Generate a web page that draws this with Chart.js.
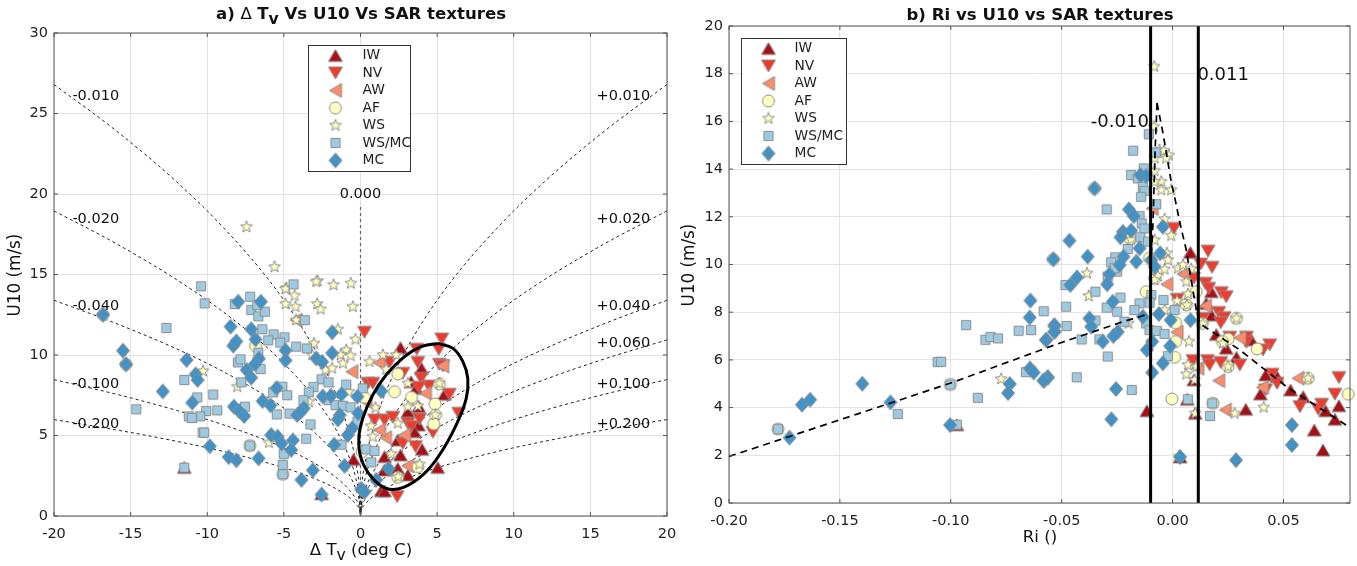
<!DOCTYPE html>
<html>
<head>
<meta charset="utf-8">
<title>U10 vs SAR textures</title>
<script src="https://cdn.jsdelivr.net/npm/chart.js@4"></script>
<style>
  html, body { margin: 0; padding: 0; background: #fff; overflow: hidden; }
  canvas { position: absolute; top: 0; }
  #plotA { left: 0; }
  #plotB { left: 678px; }
</style>
</head>
<body>
<canvas id="plotA" width="678" height="566"></canvas>
<canvas id="plotB" width="679" height="566"></canvas>
<script>
// legend order is also the stacking order, bottom to top
const textures = ['IW', 'NV', 'AW', 'AF', 'WS', 'WS/MC', 'MC'];

// panel a: [delta Tv, U10]
const tvIW = [[2.61,10.46],[3.98,9.17],[3.3,8.34],[3.63,7.93],[5.48,7.56],[3.09,6.48],[3.8,6.79],[3.78,5.65],[3.52,5.24],[2.43,4.72],[4.02,4.14],[2.61,3.79],[1.57,3.69],[-0.46,3.52],[2.43,2.96],[3.09,2.55],[5.04,3.02],[1.35,1.57],[1.57,1.55],[1.57,2.86],[-11.5,3.02],[-2.54,1.38]];
const tvNV = [[0.26,11.41],[5.3,10.99],[5.11,10.35],[3.67,10.35],[1.89,9.54],[3.74,9.54],[5.15,9.42],[5.37,9.32],[3.96,8.55],[4.46,8.07],[3.8,7.99],[5.8,7.56],[6.41,6.38],[1.57,5.96],[0.91,5.96],[2.11,6.13],[3.09,5.76],[3.85,6.02],[3.3,5.55],[4.72,5.2],[2.76,4.51],[3.59,4.31],[2.39,1.2],[0.48,8.24],[0.8,8.24],[2.76,8.86]];
const tvAW = [[-0.57,8.96],[1.2,9.52],[4.24,7.62],[1.63,4.87],[2.87,5.03],[3.09,3.11],[1.24,5.34],[-4.2,12.17],[0.37,7.1],[5.37,9.32]];
const tvAF = [[-7.22,4.37],[-5.07,2.59],[-15.3,9.42],[-16.8,12.5],[-6.85,10.56],[2.43,8.82],[2.22,7.72],[3.33,7.37],[4.87,6.96],[4.89,6.27],[4.78,5.71],[5.15,8.2],[3.74,3.06],[2.43,2.4],[0.11,4.0],[0.26,7.37]];
const tvWS = [[-7.44,17.95],[-5.61,15.47],[-4.83,14.16],[-2.8,14.6],[-1.76,14.35],[-4.89,14.1],[-4.3,13.69],[-4.89,13.17],[-4.24,13.0],[-2.89,14.55],[-0.63,14.45],[-2.83,13.17],[-2.61,12.84],[-0.5,13.0],[-4.2,12.17],[-1.48,11.59],[-0.33,10.97],[-3.04,10.72],[-0.93,10.31],[-1.3,10.0],[-0.65,9.96],[-1.15,9.48],[-3.15,10.0],[-2.28,9.07],[-1.85,9.17],[-10.28,9.0],[-8.04,8.03],[-3.37,7.1],[-5.98,4.55],[-0.76,7.72],[0.59,9.59],[1.46,10.0],[2.33,10.0],[1.67,9.11],[3.09,8.24],[0.98,6.73],[3.09,6.79],[3.74,6.83],[2.43,5.76],[0.7,5.59],[0.8,4.93],[2.0,3.85],[3.85,3.21],[2.46,2.44],[5.15,8.24],[4.89,6.27]];
const tvWSMC = [[-10.4,14.27],[-10.17,13.21],[-12.67,11.68],[-8.2,13.17],[-7.2,13.62],[-7.13,12.8],[-6.67,12.4],[-6.24,12.69],[-6.74,13.1],[-4.37,14.39],[-6.41,11.6],[-5.67,11.28],[-6.02,10.91],[-4.96,11.1],[-5.24,10.77],[-4.2,10.52],[-3.5,10.41],[-3.63,12.17],[-6.67,10.14],[-8.0,9.54],[-7.83,9.73],[-6.52,9.13],[-11.5,8.45],[-7.78,8.3],[-10.65,7.37],[-9.61,7.54],[-14.63,6.63],[-10.07,6.52],[-9.35,6.56],[-10.46,6.19],[-11.2,6.19],[-11.0,6.09],[-10.3,5.18],[-10.2,5.18],[-7.54,6.79],[-5.7,7.68],[-5.1,8.03],[-4.78,7.5],[-5.46,6.31],[-4.63,6.36],[-3.26,5.69],[-3.54,4.8],[-5.0,3.85],[-5.07,3.17],[-11.5,3.0],[-2.54,8.49],[-2.09,8.3],[-3.07,8.01],[-3.37,7.68],[-3.72,7.2],[-2.07,7.2],[-1.63,6.89],[-1.15,6.85],[-0.65,6.75],[-0.93,8.16],[-1.24,4.43],[-0.2,5.86],[0.15,7.93],[0.37,4.14],[0.91,4.04],[0.7,3.33],[-7.22,4.37],[-5.07,2.59]];
const tvMC = [[-16.8,12.5],[-15.5,10.27],[-15.3,9.42],[-12.9,7.74],[-11.35,9.69],[-10.76,8.8],[-10.63,8.45],[-10.98,7.04],[-9.83,4.33],[-8.6,3.66],[-8.1,3.46],[-8.48,11.76],[-7.98,13.31],[-6.5,13.31],[-7.13,11.6],[-6.85,10.97],[-8.3,10.58],[-8.1,10.85],[-6.63,9.77],[-6.89,9.44],[-7.43,9.07],[-7.13,8.59],[-4.89,10.29],[-4.89,9.67],[-5.48,7.95],[-6.39,7.14],[-5.87,6.87],[-8.26,6.79],[-7.93,6.52],[-7.59,6.21],[-5.83,5.03],[-5.41,4.93],[-5.15,4.51],[-4.41,4.7],[-4.52,4.1],[-6.65,3.58],[-3.11,2.84],[-3.85,2.24],[-2.54,1.33],[-4.13,6.27],[-3.7,6.69],[-3.9,6.48],[-2.89,9.79],[-2.5,9.57],[-1.85,11.41],[-1.85,10.12],[-2.46,7.43],[-1.93,7.47],[-1.24,7.56],[-0.2,7.41],[-0.15,6.38],[-1.35,6.27],[-1.48,6.0],[-0.54,5.45],[-0.83,5.03],[-1.72,4.43],[-1.04,3.11],[1.35,7.76],[1.83,2.94],[1.02,2.24],[0.04,1.66],[0.26,1.51]];

// panel b: [Ri, U10]
const riIW = [[0.008,10.51],[0.0175,8.86],[0.0152,8.37],[0.0175,7.88],[0.0197,7.07],[0.0242,6.49],[0.0288,6.11],[0.0355,6.84],[0.042,5.37],[0.0471,5.3],[0.0532,4.74],[0.0589,4.46],[0.0396,4.57],[0.069,3.87],[0.075,4.08],[0.0732,3.51],[0.0639,3.06],[0.0678,2.22],[0.033,3.93],[-0.0116,3.87],[0.0096,5.16],[0.0102,3.76],[0.0066,4.35],[-0.0973,3.28],[0.0034,1.93]];
const riNV = [[0.0006,11.51],[0.016,10.56],[0.0127,10.02],[0.0178,9.88],[0.0095,9.42],[0.0148,9.21],[0.0163,9.0],[0.022,8.82],[0.0242,8.65],[0.0021,8.54],[0.0137,7.74],[0.0208,7.99],[0.0232,7.77],[0.0217,7.56],[0.0258,6.95],[0.0333,6.95],[0.0333,6.74],[0.0438,6.63],[0.0408,6.42],[0.0092,5.97],[0.0157,5.97],[0.0167,5.79],[0.0217,5.89],[0.0303,5.79],[0.0449,5.4],[0.0471,5.02],[0.0419,4.74],[0.075,5.26],[0.0732,4.56],[0.0574,4.04],[0.0657,3.93],[0.0672,4.14]];
const riAW = [[0.0047,9.6],[-0.0026,9.17],[0.0148,8.27],[0.002,7.16],[0.0303,6.93],[0.0114,5.65],[0.0208,5.13],[0.0405,4.85],[0.0566,5.23],[0.0238,3.9],[-0.0092,12.35]];
const riAF = [[-0.1779,3.1],[-0.1002,4.97],[-0.0104,10.26],[-0.019,11.07],[-0.0538,10.22],[-0.0352,13.19],[-0.0119,8.86],[0.0107,8.86],[0.0288,7.74],[0.0014,7.56],[0.0134,7.53],[0.0014,6.77],[0.025,6.88],[0.0381,6.46],[0.0009,6.11],[0.025,5.72],[-0.0003,4.36],[0.0182,4.18],[0.0611,5.23],[0.0792,4.56],[0.0224,6.77],[-0.0081,9.42],[0.0062,8.3]];
const riWS = [[-0.0773,5.2],[-0.0083,18.3],[-0.0085,15.78],[-0.0017,14.58],[-0.0059,14.8],[-0.0039,14.77],[-0.0029,14.45],[-0.0081,14.45],[-0.0081,13.93],[-0.0051,13.47],[-0.0051,13.12],[-0.0006,13.12],[-0.0081,13.47],[-0.0036,11.9],[-0.0006,11.21],[-0.0081,11.02],[-0.0187,11.05],[-0.0026,10.47],[-0.0021,10.19],[-0.0036,9.8],[0.0024,9.84],[0.0047,9.98],[0.0084,9.81],[-0.0066,9.52],[-0.0081,9.35],[0.0062,9.28],[-0.0386,9.63],[-0.0378,8.68],[0.0069,8.76],[0.002,8.48],[0.0065,8.3],[-0.0036,8.09],[-0.0199,7.53],[0.0137,7.53],[0.0074,6.77],[0.0227,6.7],[0.0069,5.79],[0.0107,5.72],[0.0062,5.4],[0.0288,7.74],[0.025,5.72],[0.0611,5.23],[0.0411,4.01],[0.028,3.76],[0.0102,3.76],[0.0099,5.16],[0.003,1.95]];
const riWSMC = [[-0.1779,3.1],[-0.1239,3.73],[-0.1059,5.91],[-0.1044,5.92],[-0.1002,4.97],[-0.0973,3.28],[-0.0931,7.46],[-0.0878,4.41],[-0.0844,6.84],[-0.0821,6.96],[-0.0787,6.9],[-0.0694,7.22],[-0.0638,7.25],[-0.0581,8.04],[-0.0661,5.49],[-0.0107,15.46],[-0.0178,14.77],[-0.0076,14.7],[-0.013,14.03],[-0.0187,13.75],[-0.0157,13.61],[-0.0134,13.26],[-0.0127,13.08],[-0.0142,12.84],[-0.0074,12.53],[-0.0297,12.31],[-0.0149,12.03],[-0.0139,11.72],[-0.0127,11.51],[-0.0146,11.14],[-0.0111,10.96],[-0.0202,10.65],[-0.0259,10.3],[-0.0277,10.09],[-0.025,9.7],[-0.0262,9.84],[-0.0292,9.49],[-0.0483,9.14],[-0.0348,8.86],[-0.048,8.23],[-0.0235,8.61],[-0.0149,8.37],[-0.0297,8.19],[-0.025,8.02],[-0.0172,8.09],[-0.0096,8.72],[-0.0104,8.4],[-0.0041,8.51],[0.0009,8.09],[-0.0348,7.65],[-0.0217,7.6],[-0.0119,7.53],[-0.0104,7.25],[-0.0071,7.21],[-0.0036,7.09],[-0.0477,7.42],[-0.041,6.86],[-0.033,6.86],[-0.0292,6.14],[-0.0021,6.16],[-0.0432,5.27],[-0.0184,4.74],[0.0069,4.35],[0.0179,4.18],[0.0169,3.65]];
const riMC = [[-0.1727,2.74],[-0.1671,4.12],[-0.1634,4.33],[-0.1399,5.0],[-0.1272,4.22],[-0.1003,3.27],[-0.0734,4.99],[-0.0742,4.61],[-0.0641,8.49],[-0.0644,7.78],[-0.0643,5.64],[-0.0626,5.47],[-0.0578,5.14],[-0.0563,5.27],[-0.0569,6.84],[-0.0532,7.4],[-0.0532,7.19],[-0.0352,13.19],[-0.0145,13.75],[-0.0119,13.71],[-0.0197,12.31],[-0.0175,12.03],[-0.0044,11.58],[-0.0224,11.37],[-0.0235,11.14],[-0.0187,11.42],[-0.0465,11.0],[-0.0538,10.22],[-0.0383,10.33],[-0.0056,10.47],[-0.0149,10.68],[-0.0221,10.33],[-0.0164,10.12],[-0.0239,9.98],[-0.0096,10.19],[-0.0081,9.91],[-0.0285,9.59],[-0.0295,9.17],[-0.0431,9.46],[-0.0461,9.14],[-0.027,8.44],[-0.0062,7.92],[-0.0134,7.81],[-0.0009,7.67],[0.0081,7.67],[-0.0375,7.74],[-0.0367,7.39],[-0.0533,7.46],[-0.0533,7.18],[-0.0571,6.84],[-0.0247,7.18],[-0.0267,7.0],[-0.0315,6.77],[-0.0092,6.77],[-0.0116,6.42],[-0.0011,6.58],[-0.0044,5.86],[-0.0092,5.47],[-0.0563,5.26],[-0.0583,5.13],[-0.0255,4.78],[-0.0276,3.51],[0.0538,3.27],[0.0538,2.43],[0.0034,1.93],[0.0286,1.8]];

// constant Ri curves of panel a, read at these |delta Tv| positions
const curveTv = [20, 16, 12, 9, 6, 4, 2.5, 1.5, 0.8, 0.3, 0.05, 0];
const curveRi010 = [26.8, 23.97, 20.76, 17.97, 14.68, 11.98, 9.47, 7.34, 5.36, 3.28, 1.34, 0];
const curveRi020 = [18.95, 16.95, 14.68, 12.71, 10.38, 8.47, 6.7, 5.19, 3.79, 2.32, 0.95, 0];
const curveRi040 = [13.4, 11.98, 10.38, 8.99, 7.34, 5.99, 4.74, 3.67, 2.68, 1.64, 0.67, 0];
const curveRi060 = [10.94, 9.78, 8.47, 7.33, 5.99, 4.89, 3.87, 3.0, 2.19, 1.34, 0.55, 0];
const curveRi100 = [8.47, 7.58, 6.56, 5.68, 4.64, 3.79, 2.99, 2.32, 1.69, 1.04, 0.42, 0];
const curveRi200 = [5.99, 5.36, 4.64, 4.02, 3.28, 2.68, 2.12, 1.64, 1.2, 0.73, 0.3, 0];
const zeroLine = [[0, 0], [0, 19.4]];
const ellipseLine = [[5.05,10.72],[6.03,10.41],[6.68,9.59],[7.0,8.55],[6.9,7.31],[6.24,5.65],[5.15,3.79],[4.07,2.55],[2.76,1.76],[1.67,1.72],[0.7,2.44],[0.04,3.58],[-0.11,4.82],[0.15,6.07],[0.8,7.52],[1.67,8.76],[2.87,9.9],[3.96,10.52],[5.05,10.72]];

// panel b fit line and the two Ri limits
const riFitLeft = [[-0.2,1.95],[-0.1272,4.19],[-0.1,5.03],[-0.051,6.7],[-0.0224,7.6],[-0.0149,7.81],[-0.0101,7.95],[-0.0099,9.63],[-0.0089,11.58],[-0.0078,14.94],[-0.007,16.77]];
const riFitRight = [[-0.007,16.77],[-0.0043,15.5],[-0.0005,13.4],[0.0009,12.84],[0.0032,11.79],[0.0062,10.6],[0.0084,9.35],[0.0107,8.09],[0.0122,7.53],[0.0303,6.42],[0.0513,4.88],[0.0782,3.27]];
const riLowLimit = [[-0.0099,0],[-0.0099,20]];
const riHighLimit = [[0.0116,0],[0.0116,20]];

const tvTicks = [-20, -15, -10, -5, 0, 5, 10, 15, 20];
const u10TicksA = [0, 5, 10, 15, 20, 25, 30];
const riTicks = [-0.2, -0.15, -0.1, -0.05, 0, 0.05];
const u10TicksB = [0, 2, 4, 6, 8, 10, 12, 14, 16, 18, 20];

const FONT = '"DejaVu Sans", sans-serif';
const EDGE = '#8c8c8c';

// marker images, Chart.js draws them centred on the point
function makeMarker(fill, path) {
    const c = document.createElement('canvas');
    c.width = 18;
    c.height = 18;
    const g = c.getContext('2d');
    g.translate(9, 9);
    g.beginPath();
    path(g);
    g.closePath();
    g.fillStyle = fill;
    g.fill();
    g.lineWidth = 1;
    g.strokeStyle = EDGE;
    g.stroke();
    return c;
}

function poly(g, pts) {
    pts.forEach((p, i) => (i ? g.lineTo(p[0], p[1]) : g.moveTo(p[0], p[1])));
}

function starPath(g) {
    for (let i = 0; i < 10; i++) {
        const r = i % 2 ? 2.6 : 6.2;
        const a = -Math.PI / 2 + i * Math.PI / 5;
        const x = r * Math.cos(a), y = r * Math.sin(a);
        i ? g.lineTo(x, y) : g.moveTo(x, y);
    }
}

const markers = {
    'IW': makeMarker('#a50f15', g => poly(g, [[0, -6], [7, 6], [-7, 6]])),
    'NV': makeMarker('#ef3b2c', g => poly(g, [[0, 6], [7, -6], [-7, -6]])),
    'AW': makeMarker('#fc8d6b', g => poly(g, [[-6, 0], [6, -7], [6, 7]])),
    'AF': makeMarker('#ffffbf', g => g.arc(0, 0, 6, 0, Math.PI * 2)),
    'WS': makeMarker('#ffffbf', starPath),
    'WS/MC': makeMarker('#9ecae1', g => g.rect(-4.6, -4.6, 9.2, 9.2)),
    'MC': makeMarker('#4292c6', g => poly(g, [[0, -7.5], [6.5, 0], [0, 7.5], [-6.5, 0]]))
};

function scatterSets(series) {
    return textures.map((name, i) => ({
        label: name,
        data: series[i].map(p => ({ x: p[0], y: p[1] })),
        showLine: false,
        pointStyle: markers[name],
        pointRadius: 6,
        clip: false,
        order: 10 - i
    }));
}

function lineSet(label, points, opts) {
    return Object.assign({
        label,
        data: points.map(p => ({ x: p[0], y: p[1] })),
        showLine: true,
        pointRadius: 0,
        borderColor: '#222',
        borderWidth: 1,
        borderDash: [3, 3],
        fill: false,
        order: 20
    }, opts);
}

function curveSet(label, sign, heights) {
    return lineSet(label, curveTv.map((t, i) => [sign * t, heights[i]]), { cubicInterpolationMode: 'monotone' });
}

// rich text with lowered subscripts, kinds: b bold, r regular, sb/sr subscript
function drawRich(ctx, parts, cx, y, size) {
    const fontOf = k => {
        if (k === 'b') return `bold ${size}px ${FONT}`;
        if (k === 'sb') return `bold ${size - 1}px ${FONT}`;
        if (k === 'sr') return `${size - 1}px ${FONT}`;
        return `${size}px ${FONT}`;
    };
    let w = 0;
    parts.forEach(p => { ctx.font = fontOf(p[1]); w += ctx.measureText(p[0]).width; });
    let x = cx - w / 2;
    ctx.textAlign = 'left';
    ctx.textBaseline = 'middle';
    ctx.fillStyle = '#111';
    parts.forEach(p => {
        ctx.font = fontOf(p[1]);
        ctx.fillText(p[0], x, p[1][0] === 's' ? y + 5 : y);
        x += ctx.measureText(p[0]).width;
    });
}

// box, inside ticks, legend and free labels that Chart.js has no option for
function panelPlugin(cfg) {
    return {
        id: 'panel',
        afterDraw(chart) {
            const { ctx, chartArea: a, scales } = chart;
            ctx.save();
            ctx.strokeStyle = '#555';
            ctx.lineWidth = 1;
            ctx.strokeRect(a.left, a.top, a.right - a.left, a.bottom - a.top);
            ctx.beginPath();
            scales.x.ticks.forEach(t => {
                const x = scales.x.getPixelForValue(t.value);
                ctx.moveTo(x, a.bottom); ctx.lineTo(x, a.bottom - 4);
                ctx.moveTo(x, a.top); ctx.lineTo(x, a.top + 4);
            });
            scales.y.ticks.forEach(t => {
                const y = scales.y.getPixelForValue(t.value);
                ctx.moveTo(a.left, y); ctx.lineTo(a.left + 4, y);
                ctx.moveTo(a.right, y); ctx.lineTo(a.right - 4, y);
            });
            ctx.stroke();

            // legend
            const b = cfg.legendBox;
            ctx.fillStyle = '#fff';
            ctx.fillRect(b.x, b.y, b.w, b.h);
            ctx.strokeStyle = '#333';
            ctx.strokeRect(b.x, b.y, b.w, b.h);
            ctx.font = `13.8px ${FONT}`;
            ctx.textBaseline = 'middle';
            ctx.textAlign = 'left';
            ctx.fillStyle = '#222';
            textures.forEach((name, i) => {
                const y = b.y + 10 + i * 17.5;
                ctx.drawImage(markers[name], b.x + b.mark - 9, y - 9);
                ctx.fillText(name, b.x + b.text, y);
            });

            // labels given in data coordinates
            cfg.labels.forEach(l => {
                ctx.font = `${l.size}px ${FONT}`;
                ctx.textAlign = l.align;
                ctx.fillStyle = '#111';
                ctx.fillText(l.text, scales.x.getPixelForValue(l.x), scales.y.getPixelForValue(l.y));
            });

            drawRich(ctx, cfg.title, cfg.titleX, cfg.titleY, 16.6);
            drawRich(ctx, cfg.xTitle, cfg.xTitleX, cfg.xTitleY, 16.6);

            ctx.translate(cfg.yTitleX, cfg.yTitleY);
            ctx.rotate(-Math.PI / 2);
            ctx.font = `16.8px ${FONT}`;
            ctx.textAlign = 'center';
            ctx.fillStyle = '#111';
            ctx.fillText('U10 (m/s)', 0, 0);
            ctx.restore();
        }
    };
}

function axisOptions(cfg) {
    const tickFont = { family: FONT, size: 14.5 };
    const grid = { color: '#e3e3e3', lineWidth: 1, drawTicks: false };
    return {
        x: {
            type: 'linear', min: cfg.xMin, max: cfg.xMax, grid, border: { display: false },
            afterBuildTicks: s => { s.ticks = cfg.xTicks.map(v => ({ value: v })); },
            ticks: { font: tickFont, color: '#222', padding: 10, maxRotation: 0, callback: cfg.xFormat },
            afterFit: s => { s.height = cfg.bottomSpace; s.paddingLeft = 0; s.paddingRight = 0; }
        },
        y: {
            type: 'linear', min: cfg.yMin, max: cfg.yMax, grid, border: { display: false },
            afterBuildTicks: s => { s.ticks = cfg.yTicks.map(v => ({ value: v })); },
            ticks: { font: tickFont, color: '#222', padding: 6 },
            afterFit: s => { s.width = cfg.leftSpace; s.paddingTop = 0; s.paddingBottom = 0; }
        }
    };
}

function initializePanelA() {
    const cfg = {
        xMin: -20, xMax: 20, yMin: 0, yMax: 30,
        xTicks: tvTicks, yTicks: u10TicksA, xFormat: v => String(v),
        leftSpace: 54, bottomSpace: 50,
        legendBox: { x: 308.5, y: 45.5, w: 102, h: 126, mark: 27, text: 54 },
        title: [['a) ', 'b'], ['\u0394 ', 'r'], ['T', 'b'], ['v', 'sb'], [' Vs U10 Vs SAR textures', 'b']],
        titleX: 361, titleY: 15,
        xTitle: [['\u0394 T', 'r'], ['v', 'sr'], [' (deg C)', 'r']],
        xTitleX: 361, xTitleY: 551,
        yTitleX: 16, yTitleY: 275,
        labels: [
            { text: '-0.010', x: -18.8, y: 26.1, size: 14.5, align: 'left' },
            { text: '-0.020', x: -18.8, y: 18.45, size: 14.5, align: 'left' },
            { text: '-0.040', x: -18.8, y: 13.05, size: 14.5, align: 'left' },
            { text: '-0.100', x: -18.8, y: 8.2, size: 14.5, align: 'left' },
            { text: '-0.200', x: -18.8, y: 5.7, size: 14.5, align: 'left' },
            { text: '0.000', x: 0, y: 20.0, size: 14.5, align: 'center' },
            { text: '+0.010', x: 15.4, y: 26.1, size: 14.5, align: 'left' },
            { text: '+0.020', x: 15.4, y: 18.45, size: 14.5, align: 'left' },
            { text: '+0.040', x: 15.4, y: 13.05, size: 14.5, align: 'left' },
            { text: '+0.060', x: 15.4, y: 10.7, size: 14.5, align: 'left' },
            { text: '+0.100', x: 15.4, y: 8.2, size: 14.5, align: 'left' },
            { text: '+0.200', x: 15.4, y: 5.7, size: 14.5, align: 'left' }
        ]
    };
    new Chart(document.getElementById('plotA'), {
        type: 'scatter',
        data: {
            datasets: [
                lineSet('ellipse', ellipseLine, { borderColor: '#000', borderWidth: 3, borderDash: [], tension: 0.4, order: 1, clip: false }),
                ...scatterSets([tvIW, tvNV, tvAW, tvAF, tvWS, tvWSMC, tvMC]),
                curveSet('-0.010', -1, curveRi010), curveSet('-0.020', -1, curveRi020),
                curveSet('-0.040', -1, curveRi040), curveSet('-0.100', -1, curveRi100),
                curveSet('-0.200', -1, curveRi200), lineSet('0.000', zeroLine, { borderColor: '#666', borderWidth: 1.2 }),
                curveSet('+0.010', 1, curveRi010), curveSet('+0.020', 1, curveRi020),
                curveSet('+0.040', 1, curveRi040), curveSet('+0.060', 1, curveRi060),
                curveSet('+0.100', 1, curveRi100), curveSet('+0.200', 1, curveRi200)
            ]
        },
        options: {
            responsive: false,
            animation: false,
            layout: { padding: { left: 0, right: 11, top: 33, bottom: 0 } },
            plugins: { legend: { display: false }, tooltip: { enabled: false } },
            scales: axisOptions(cfg)
        },
        plugins: [panelPlugin(cfg)]
    });
}

function initializePanelB() {
    const cfg = {
        xMin: -0.2, xMax: 0.08, yMin: 0, yMax: 20,
        xTicks: riTicks, yTicks: u10TicksB, xFormat: v => v.toFixed(2),
        leftSpace: 51, bottomSpace: 63,
        legendBox: { x: 63.5, y: 38.5, w: 105, h: 126, mark: 27, text: 53 },
        title: [['b) Ri vs U10 vs SAR textures', 'b']],
        titleX: 362, titleY: 16,
        xTitle: [['Ri ()', 'r']],
        xTitleX: 362, xTitleY: 538,
        yTitleX: 12, yTitleY: 265,
        labels: [
            { text: '-0.010', x: -0.0107, y: 15.95, size: 18, align: 'right' },
            { text: '0.011', x: 0.0112, y: 17.95, size: 18, align: 'left' }
        ]
    };
    new Chart(document.getElementById('plotB'), {
        type: 'scatter',
        data: {
            datasets: [
                lineSet('Ri low', riLowLimit, { borderColor: '#000', borderWidth: 3, borderDash: [], order: 1 }),
                lineSet('Ri high', riHighLimit, { borderColor: '#000', borderWidth: 3, borderDash: [], order: 1 }),
                lineSet('fit left', riFitLeft, { borderColor: '#000', borderWidth: 1.7, borderDash: [7, 5], order: 2 }),
                lineSet('fit right', riFitRight, { borderColor: '#000', borderWidth: 1.7, borderDash: [7, 5], order: 2 }),
                ...scatterSets([riIW, riNV, riAW, riAF, riWS, riWSMC, riMC])
            ]
        },
        options: {
            responsive: false,
            animation: false,
            layout: { padding: { left: 0, right: 6, top: 26, bottom: 0 } },
            plugins: { legend: { display: false }, tooltip: { enabled: false } },
            scales: axisOptions(cfg)
        },
        plugins: [panelPlugin(cfg)]
    });
}

document.addEventListener('DOMContentLoaded', () => {
    initializePanelA();
    initializePanelB();
});
</script>
</body>
</html>
